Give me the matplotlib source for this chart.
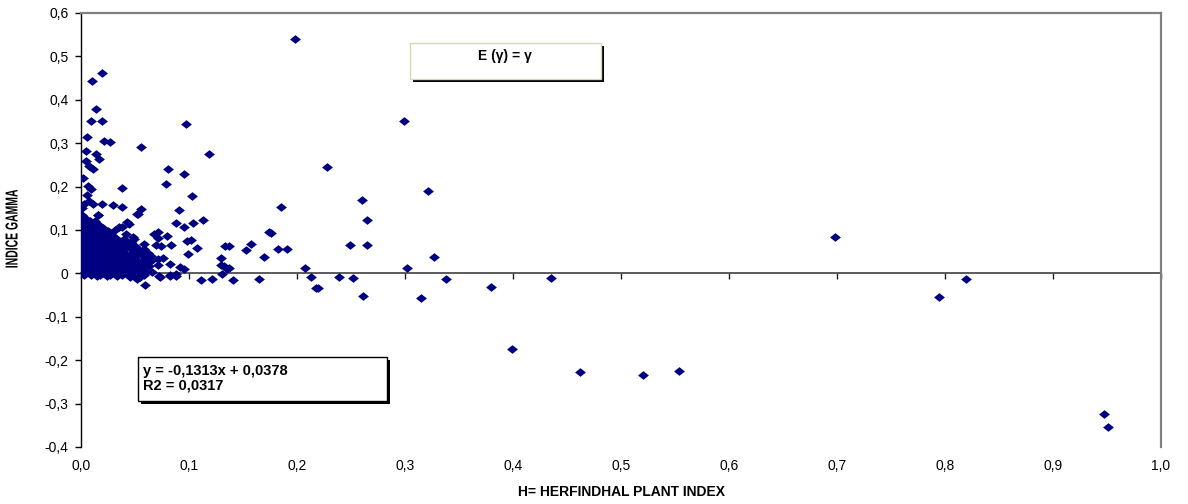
import matplotlib
matplotlib.use("Agg")
import matplotlib.pyplot as plt
from matplotlib.patches import Rectangle
from matplotlib.ticker import FuncFormatter
from matplotlib.patheffects import AbstractPathEffect
from matplotlib.transforms import Affine2D

# ---------------- data ----------------
# scattered points (H, gamma)
upper_points = [
    (0.019, 0.462), (0.010, 0.444), (0.014, 0.379), (0.009, 0.350), (0.019, 0.351),
    (0.0975, 0.345), (0.006, 0.315), (0.021, 0.305), (0.027, 0.302), (0.056, 0.291),
    (0.005, 0.283), (0.014, 0.276), (0.1185, 0.276), (0.017, 0.264), (0.005, 0.260),
    (0.007, 0.248), (0.011, 0.241), (0.081, 0.240), (0.095, 0.229), (0.0015, 0.220),
    (0.079, 0.207), (0.0065, 0.202), (0.009, 0.194), (0.038, 0.197), (0.1025, 0.178),
    (0.006, 0.180), (0.007, 0.166), (0.011, 0.159), (0.019, 0.159), (0.030, 0.158),
    (0.038, 0.153), (0.056, 0.148), (0.001, 0.150), (0.091, 0.145), (0.053, 0.137),
    (0.016, 0.134), (0.001, 0.134), (0.1125, 0.124), (0.088, 0.116), (0.104, 0.115),
    (0.043, 0.118), (0.0957, 0.107), (0.038, 0.108), (0.017, 0.107), (0.0716, 0.095),
    (0.025, 0.097), (0.0315, 0.099), (0.048, 0.083), (0.080, 0.086), (0.0716, 0.082),
    (0.098, 0.074), (0.1015, 0.078), (0.0836, 0.0645), (0.0694, 0.066), (0.0738, 0.063),
    (0.107, 0.059), (0.099, 0.045), (0.1296, 0.035), (0.174, 0.095), (0.133, 0.062),
    (0.137, 0.064), (0.153, 0.055), (0.157, 0.067), (0.169, 0.038), (0.132, 0.016),
    (0.137, 0.012), (0.131, -0.002), (0.111, -0.015), (0.121, -0.014), (0.141, -0.015),
    (0.1645, -0.012), (0.059, -0.026), (0.092, 0.014), (0.0955, 0.009), (0.072, -0.006),
    (0.082, -0.003), (0.088, -0.002), (0.003, 0.161), (0.0155, 0.134), (0.052, 0.137),
    (0.0448, 0.1145), (0.0355, 0.107), (0.0417, 0.0915), (0.049, 0.080), (0.0586, 0.068),
    (0.068, 0.0915),
]

edge_points = [
    (0.076, 0.036), (0.065, 0.039), (0.056, 0.026), (0.061, 0.030), (0.0515, 0.0185),
    (0.0546, 0.013), (0.0716, 0.034), (0.0716, 0.0185), (0.082, 0.022), (0.073, -0.0085),
    (0.082, -0.005), (0.088, -0.005), (0.130, 0.0185), (0.135, 0.011), (0.033, -0.007),
    (0.024, -0.007), (0.0145, -0.007), (0.045, -0.0085), (0.0515, -0.012), (0.0546, -0.0085),
]

mid_points = [
    (0.198, 0.541), (0.299, 0.350), (0.2275, 0.245), (0.3216, 0.189), (0.185, 0.153),
    (0.2605, 0.170), (0.265, 0.124), (0.176, 0.094), (0.249, 0.066), (0.265, 0.066),
    (0.182, 0.056), (0.191, 0.057), (0.327, 0.0376), (0.207, 0.013), (0.302, 0.0115),
    (0.2127, -0.0076), (0.2386, -0.009), (0.2518, -0.011), (0.3377, -0.012), (0.2176, -0.034),
    (0.2198, -0.033), (0.2614, -0.051), (0.315, -0.056), (0.3796, -0.0315), (0.435, -0.011),
    (0.3994, -0.1735),
]

far_points = [
    (0.462, -0.228), (0.520, -0.233), (0.554, -0.226), (0.698, 0.085),
    (0.794, -0.055), (0.819, -0.014), (0.9475, -0.323), (0.951, -0.354),
]

# dense core near the origin (rows of gamma with the H values seen on that row)
core_rows = {
    0.128: [0.001, 0.004],
    0.120: [0.002, 0.008, 0.013],
    0.112: [0.001, 0.006, 0.011, 0.017],
    0.104: [0.003, 0.009, 0.014, 0.020],
    0.096: [0.001, 0.005, 0.010, 0.016, 0.021],
    0.088: [0.002, 0.007, 0.012, 0.018, 0.023, 0.029],
    0.080: [0.001, 0.004, 0.009, 0.015, 0.020, 0.026, 0.033, 0.040],
    0.072: [0.002, 0.006, 0.011, 0.017, 0.022, 0.028, 0.035, 0.042, 0.046],
    0.064: [0.001, 0.005, 0.010, 0.014, 0.019, 0.024, 0.031, 0.037, 0.044, 0.050],
    0.056: [0.003, 0.007, 0.012, 0.016, 0.021, 0.027, 0.033, 0.039, 0.046, 0.053, 0.058],
    0.048: [0.001, 0.005, 0.009, 0.014, 0.018, 0.023, 0.029, 0.035, 0.041, 0.048, 0.055, 0.062],
    0.040: [0.002, 0.006, 0.011, 0.016, 0.020, 0.025, 0.031, 0.037, 0.043, 0.050, 0.057, 0.064],
    0.032: [0.001, 0.004, 0.008, 0.013, 0.017, 0.022, 0.027, 0.033, 0.039, 0.045, 0.052, 0.059, 0.066],
    0.024: [0.002, 0.006, 0.010, 0.015, 0.019, 0.024, 0.029, 0.035, 0.041, 0.047, 0.053, 0.060],
    0.016: [0.001, 0.004, 0.008, 0.012, 0.017, 0.021, 0.026, 0.031, 0.037, 0.043, 0.049, 0.057, 0.063],
    0.009: [0.002, 0.006, 0.010, 0.014, 0.019, 0.023, 0.028, 0.034, 0.040, 0.046, 0.051, 0.056],
    0.003: [0.001, 0.004, 0.008, 0.012, 0.016, 0.021, 0.025, 0.030, 0.036, 0.042, 0.048, 0.054, 0.060, 0.066],
    -0.003: [0.003, 0.009, 0.018, 0.027, 0.038, 0.047, 0.058],
}

x_ticks = [0.0, 0.1, 0.2, 0.3, 0.4, 0.5, 0.6, 0.7, 0.8, 0.9, 1.0]
y_ticks = [-0.4, -0.3, -0.2, -0.1, 0.0, 0.1, 0.2, 0.3, 0.4, 0.5, 0.6]
x_title = "H= HERFINDHAL PLANT INDEX"
y_title = "INDICE GAMMA"
eq_lines = ["y = -0,1313x + 0,0378", "R2 = 0,0317"]
box_text = "E (\u03b3) = \u03b3"

# ---------------- assemble ----------------
hx, gy = [], []
for pts in (upper_points, edge_points, mid_points, far_points):
    for a, b in pts:
        hx.append(a)
        gy.append(b)
for g, hs in core_rows.items():
    for a in hs:
        hx.append(a)
        gy.append(g)

# ---------------- figure ----------------
W, H = 1188, 504
plt.rcParams["font.family"] = ["Liberation Sans", "DejaVu Sans"]
fig = plt.figure(figsize=(W / 100, H / 100), dpi=100)
fig.patch.set_facecolor("white")
ax = fig.add_axes([81 / W, 1 - 447 / H, 1080 / W, 434 / H])

diamond = [(0, 0.40), (0.5, 0), (0, -0.40), (-0.5, 0)]
ax.plot(hx, gy, linestyle="none", marker=diamond, markersize=7.8,
        color="#000080", markeredgewidth=0, zorder=3)

ax.set_xlim(0, 1)
ax.set_ylim(-0.4, 0.6)

# spines
ax.spines["left"].set_color("black")
ax.spines["left"].set_linewidth(1.0)
ax.spines["top"].set_color("#808080")
ax.spines["top"].set_linewidth(1.6)
ax.spines["right"].set_color("#808080")
ax.spines["right"].set_linewidth(1.6)
ax.spines["bottom"].set_position(("data", 0))
ax.spines["bottom"].set_color("#404040")
ax.spines["bottom"].set_linewidth(1.2)
ax.spines["bottom"].set_zorder(2)

ax.set_xticks(x_ticks)
ax.tick_params(axis="x", direction="out", length=4, width=1.0, color="#202020",
               labelbottom=False)
ax.set_yticks(y_ticks)


def yfmt(v, _):
    if abs(v) < 1e-9:
        return "0"
    return f"{v:.1f}".replace(".", ",")


ax.yaxis.set_major_formatter(FuncFormatter(yfmt))
ax.tick_params(axis="y", direction="out", length=4, width=1.0, pad=5,
               labelsize=10, labelcolor="black")

sec = ax.secondary_xaxis("bottom")
sec.spines["bottom"].set_visible(False)
sec.set_xticks(x_ticks)
sec.xaxis.set_major_formatter(FuncFormatter(lambda v, _: f"{v:.1f}".replace(".", ",")))
sec.tick_params(axis="x", length=0, pad=9, labelsize=10)


class Squeeze(AbstractPathEffect):
    """Compress drawn text about a point in display space (narrow font look)."""

    def __init__(self, cx, cy, sx, sy):
        super().__init__()
        self.cx, self.cy, self.sx, self.sy = cx, cy, sx, sy

    def draw_path(self, renderer, gc, tpath, affine, rgbFace=None):
        t = affine + Affine2D().translate(-self.cx, -self.cy).scale(self.sx, self.sy) \
            .translate(self.cx, self.cy)
        renderer.draw_path(gc, tpath, t, rgbFace)


# axis titles
fig.text(621 / W, 1 - 492 / H, x_title, ha="center", va="center",
         fontsize=10, fontweight="bold")
ytxt = fig.text(13 / W, 1 - 229 / H, y_title, ha="center", va="center", rotation=90,
                fontsize=12.5, fontweight="bold")
ytxt.set_path_effects([Squeeze(13, H - 229, 1.0, 0.6)])


def px_rect(x0, y0, x1, y1, **kw):
    return Rectangle((x0 / W, 1 - y1 / H), (x1 - x0) / W, (y1 - y0) / H,
                     transform=fig.transFigure, **kw)


# E(gamma) box
fig.patches.append(px_rect(413, 46, 604, 82, facecolor="black", edgecolor="none", zorder=5))
fig.patches.append(px_rect(410, 43, 601, 79, facecolor="white", edgecolor="#d8d8b8",
                           linewidth=1.0, zorder=6))
fig.text(505 / W, 1 - 56 / H, box_text, ha="center", va="center", fontsize=10,
         fontweight="bold", zorder=7)

# regression box
fig.patches.append(px_rect(141, 360, 390, 404, facecolor="black", edgecolor="none", zorder=5))
fig.patches.append(px_rect(138, 357, 387, 401, facecolor="white", edgecolor="black",
                           linewidth=1.0, zorder=6))
fig.text(143 / W, 1 - 371 / H, eq_lines[0], ha="left", va="center", fontsize=10.5,
         fontweight="bold", zorder=7)
fig.text(143 / W, 1 - 386 / H, eq_lines[1], ha="left", va="center", fontsize=10.5,
         fontweight="bold", zorder=7)

fig.savefig("out.png", dpi=100, facecolor="white")
